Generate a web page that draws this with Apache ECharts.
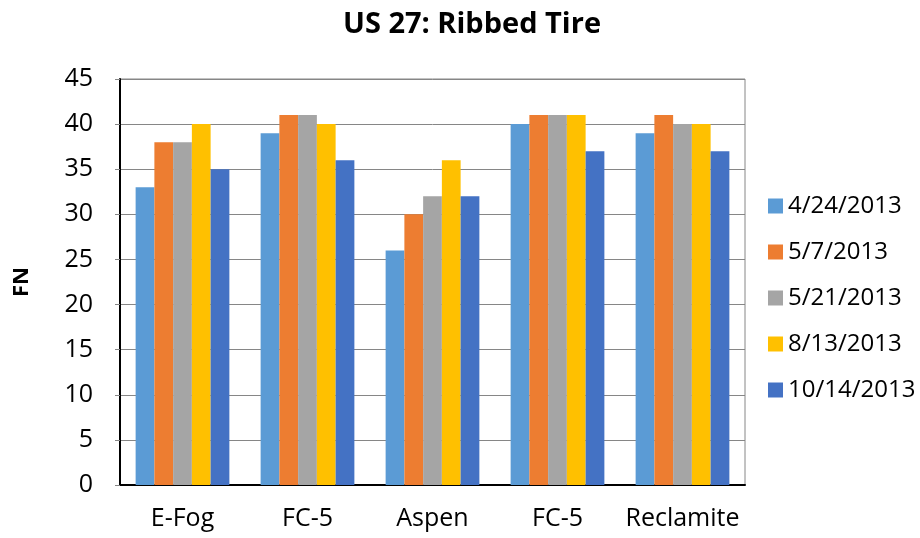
<!doctype html>
<meta charset="utf-8">
<style>
  html, body { margin: 0; height: 100%; background: #fff; }
  #chart { width: 920px; height: 538px; }
</style>
<script src="https://cdn.jsdelivr.net/npm/echarts@6/dist/echarts.min.js"></script>
<div id="chart"></div>
<script>
  const sites = ['E-Fog', 'FC-5', 'Aspen', 'FC-5', 'Reclamite']
  const dates = ['4/24/2013', '5/7/2013', '5/21/2013', '8/13/2013', '10/14/2013']
  const d0424 = [33, 39, 26, 40, 39]
  const d0507 = [38, 41, 30, 41, 41]
  const d0521 = [38, 41, 32, 41, 40]
  const d0813 = [40, 40, 36, 41, 40]
  const d1014 = [35, 36, 32, 37, 37]
  const values = [d0424, d0507, d0521, d0813, d1014]
  const colors = ['#5B9BD5', '#ED7D31', '#A5A5A5', '#FFC000', '#4472C4']
  const font = '"Open Sans", "Liberation Sans", sans-serif'

  let chart = echarts.init(document.getElementById('chart'))
  chart.setOption({
    animation: false,
    textStyle: { fontFamily: font },
    title: {
      text: 'US 27: Ribbed Tire',
      left: 467,
      textAlign: 'center',
      top: 5,
      textStyle: { fontFamily: font, fontSize: 29, fontWeight: 'bold', color: '#000' },
    },
    grid: {
      left: 120,
      right: 175,
      top: 79,
      bottom: 53,
      show: true,
      borderColor: '#868686',
      borderWidth: 1,
    },
    legend: {
      orient: 'vertical',
      left: 763,
      top: 189,
      itemWidth: 15,
      itemHeight: 15,
      itemGap: 22,
      icon: 'rect',
      textStyle: { fontSize: 24, color: '#000', fontFamily: font },
      data: dates,
    },
    xAxis: {
      type: 'category',
      data: sites,
      axisLine: { lineStyle: { color: '#000', width: 2 } },
      axisTick: { length: 8, lineStyle: { color: '#000' } },
      axisLabel: { fontSize: 25, color: '#000', margin: 21, interval: 0 },
    },
    yAxis: {
      type: 'value',
      name: 'FN',
      nameLocation: 'middle',
      nameGap: 87,
      nameRotate: 90,
      nameTextStyle: { fontSize: 22, fontWeight: 'bold', color: '#000' },
      min: 0,
      max: 45,
      interval: 5,
      axisLine: { show: true, lineStyle: { color: '#000', width: 2 } },
      axisTick: { show: true, length: 5, lineStyle: { color: '#868686' } },
      axisLabel: { fontSize: 25, color: '#000', margin: 27 },
      splitLine: { lineStyle: { color: '#868686', width: 1 } },
    },
    series: dates.map((d, i) => ({
      name: d,
      type: 'bar',
      data: values[i],
      barGap: '0%',
      barCategoryGap: '25%',
      itemStyle: { color: colors[i] },
    })),
  })
</script>
